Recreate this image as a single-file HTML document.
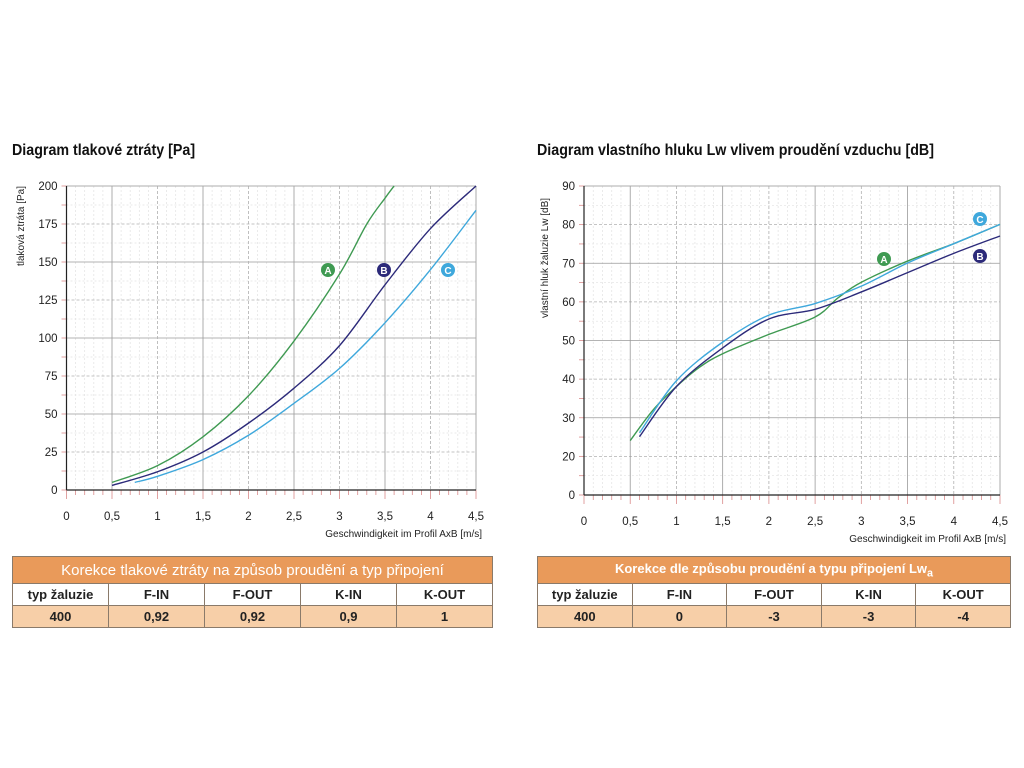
<!DOCTYPE html>
<html><head><meta charset="utf-8"><style>
body{margin:0;width:1024px;height:768px;background:#fff;font-family:"Liberation Sans",sans-serif;position:relative;overflow:hidden}
.t{position:absolute;font-weight:bold;font-size:15.5px;color:#111;transform:scaleX(0.92);transform-origin:left}
table{position:absolute;border-collapse:collapse;font-size:13px;font-weight:bold;color:#222;table-layout:fixed}
td{border:1px solid #8a7a6a;text-align:center;padding:0;height:21px;overflow:hidden;white-space:nowrap}
.h td{background:#e99a5a;color:#fff;height:26px;font-weight:normal;font-size:15px}
.r3 td{background:#f7cfa8}
</style></head><body>
<div class="t" style="left:12px;top:142px">Diagram tlakové ztráty [Pa]</div>
<div class="t" style="left:537px;top:142px">Diagram vlastního hluku Lw vlivem proudění vzduchu [dB]</div>
<svg id="s" width="1024" height="768" style="position:absolute;left:0;top:0" font-family="Liberation Sans, sans-serif"></svg>
<table style="left:12px;top:556px;width:481px">
<colgroup><col style="width:20%"><col style="width:20%"><col style="width:20%"><col style="width:20%"><col style="width:20%"></colgroup>
<tr class="h"><td colspan="5">Korekce tlakové ztráty na způsob proudění a typ připojení</td></tr>
<tr><td>typ žaluzie</td><td>F-IN</td><td>F-OUT</td><td>K-IN</td><td>K-OUT</td></tr>
<tr class="r3"><td>400</td><td>0,92</td><td>0,92</td><td>0,9</td><td>1</td></tr></table>
<table style="left:537px;top:556px;width:474px">
<colgroup><col style="width:20%"><col style="width:20%"><col style="width:20%"><col style="width:20%"><col style="width:20%"></colgroup>
<tr class="h"><td colspan="5" style="font-weight:bold;font-size:13px">Korekce dle způsobu proudění a typu připojení Lw<sub>a</sub></td></tr>
<tr><td>typ žaluzie</td><td>F-IN</td><td>F-OUT</td><td>K-IN</td><td>K-OUT</td></tr>
<tr class="r3"><td>400</td><td>0</td><td>-3</td><td>-3</td><td>-4</td></tr></table>
<script>
var s=document.getElementById('s'),h='';
function L(x1,y1,x2,y2,c,w,d){h+='<line x1="'+x1+'" y1="'+y1+'" x2="'+x2+'" y2="'+y2+'" stroke="'+c+'" stroke-width="'+w+'"'+(d?' stroke-dasharray="'+d+'"':'')+'/>';}
function T(x,y,t,a,sz,ex){h+='<text x="'+x+'" y="'+y+'" font-size="'+(sz||11)+'" text-anchor="'+(a||'middle')+'" fill="#222" '+(ex||'')+'>'+t+'</text>';}
function path(pts,c){var d='M'+pts[0][0]+','+pts[0][1];for(var i=0;i<pts.length-1;i++){var p0=pts[i-1]||pts[i],p1=pts[i],p2=pts[i+1],p3=pts[i+2]||p2;d+=' C'+(p1[0]+(p2[0]-p0[0])/6)+','+(p1[1]+(p2[1]-p0[1])/6)+' '+(p2[0]-(p3[0]-p1[0])/6)+','+(p2[1]-(p3[1]-p1[1])/6)+' '+p2[0]+','+p2[1];}h+='<path d="'+d+'" fill="none" stroke="'+c+'" stroke-width="1.4"/>';}
function badge(x,y,t,c){h+='<circle cx="'+x+'" cy="'+y+'" r="7" fill="'+c+'"/><text x="'+x+'" y="'+(y+4)+'" font-size="10" font-weight="bold" text-anchor="middle" fill="#fff">'+t+'</text>';}
function grid(x0,x1,y0,y1,ny){
 var w=x1-x0;for(var i=1;i<=45;i++){var x=x0+w*i/45;if(i%5)L(x,y1,x,y0,'#e2e2e2',0.7,'2,2');}
 for(var j=1;j<ny*4;j++){var y=y0-(y0-y1)*j/(ny*4);if(j%2)L(x0,y,x1,y,'#e2e2e2',0.7,'2,2');}
 for(var j=1;j<=ny*2;j++){var y=y0-(y0-y1)*j/(ny*2);L(x0,y,x1,y,j%2?'#b0b0b0':'#9a9a9a',0.8,j%2?'3,2':'');}
 for(var i=1;i<=9;i++){var x=x0+w*i/9;L(x,y1,x,y0,i%2?'#9a9a9a':'#b0b0b0',0.8,i%2?'':'3,2');}
 L(x1,y1,x1,y0,'#aaa',0.8);L(x0,y1,x1,y1,'#aaa',0.8);
 for(var i=0;i<=45;i++){var x=x0+w*i/45;L(x,y0,x,y0+(i%5?5:9),'#d98a8a',0.8);}
 for(var j=0;j<=ny*4;j++){var y=y0-(y0-y1)*j/(ny*4);L(x0-5,y,x0,y,'#d98a8a',0.8);}
 L(x0,y1,x0,y0,'#222',1.2);L(x0,y0,x1,y0,'#222',1.2);
 var lb=['0','0,5','1','1,5','2','2,5','3','3,5','4','4,5'];for(var i=0;i<10;i++)T(x0+w*i/9,y0+30,lb[i],'middle',11.5);
 T(x1+6,y0+47,'Geschwindigkeit im Profil AxB [m/s]','end',10);
}
var X0=66.5,X1=476,Y0=490,Y1=186;grid(X0,X1,Y0,Y1,4);
var ly=['0','25','50','75','100','125','150','175','200'];for(var j=0;j<9;j++)T(X0-9,Y0-(Y0-Y1)*j/8+4,ly[j],'end',11.5);
T(0,0,'tlaková ztráta [Pa]','middle',10,'transform="translate(24,226) rotate(-90)"');
function lp(a){return a.map(function(p){return[X0+p[0]*(X1-X0)/4.5,Y0-p[1]*(Y0-Y1)/200];});}
path(lp([[0.5,5],[1,16],[1.5,35],[2,62],[2.5,98],[3,142],[3.3,175],[3.5,192],[3.6,200]]),'#3f9a52');
path(lp([[0.5,3],[1,12],[1.5,25],[2,44],[2.5,67],[3,95],[3.5,135],[4,172],[4.5,200]]),'#2c2a7a');
path(lp([[0.75,5],[1,9],[1.5,20],[2,36],[2.5,57],[3,80],[3.5,110],[4,145],[4.5,184]]),'#3fa8dc');
badge(328,270,'A','#3f9a52');badge(384,270,'B','#2c2a7a');badge(448,270,'C','#3fa8dc');
X0=584;X1=1000;Y0=495;Y1=186;grid(X0,X1,Y0,Y1,4);
var ry=['0','20','30','40','50','60','70','80','90'];for(var j=0;j<9;j++)T(X0-9,Y0-(Y0-Y1)*j/8+4,ry[j],'end',11.5);
T(0,0,'vlastní hluk žaluzie Lw [dB]','middle',10,'transform="translate(548,258) rotate(-90)"');
function rp(a){return a.map(function(p){return[X0+p[0]*(X1-X0)/4.5,456-(p[1]-20)*3.86];});}
path(rp([[0.5,24],[0.75,32],[1,38],[1.25,43],[1.5,46.5],[2,51.5],[2.5,56],[2.75,61],[3,65],[3.5,70.5],[4,75],[4.5,80]]),'#3f9a52');
path(rp([[0.6,25],[1,38],[1.5,48],[2,55.5],[2.5,58],[3,62.5],[3.5,67.5],[4,72.5],[4.5,77]]),'#2c2a7a');
path(rp([[0.6,26],[1,39.5],[1.5,49.5],[2,56.5],[2.5,59.5],[3,64],[3.5,70],[4,75],[4.5,80]]),'#3fa8dc');
badge(884,259,'A','#3f9a52');badge(980,256,'B','#2c2a7a');badge(980,219,'C','#3fa8dc');
s.innerHTML=h;
</script>
</body></html>
